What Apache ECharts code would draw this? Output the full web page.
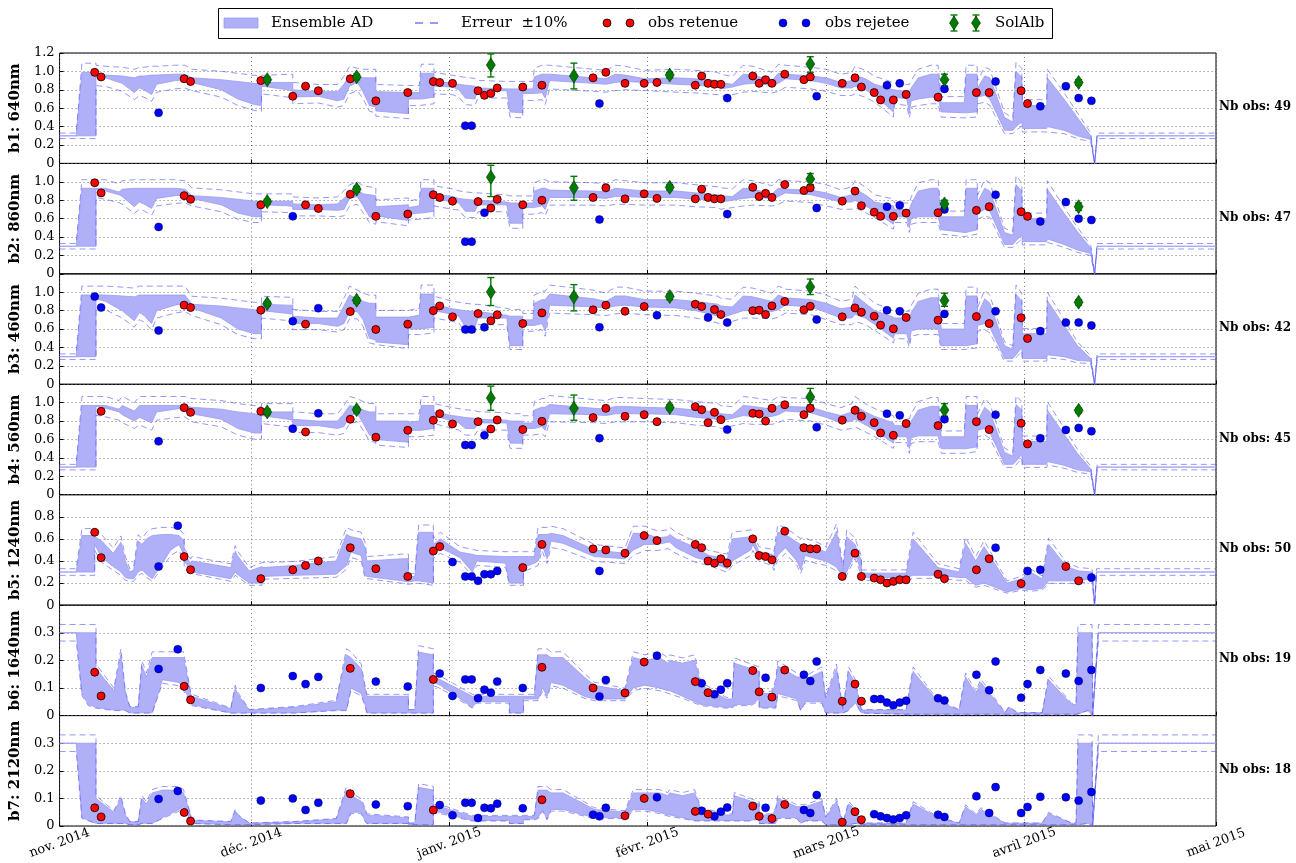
<!DOCTYPE html>
<html>
<head>
<meta charset="utf-8">
<script src="https://cdn.jsdelivr.net/npm/echarts@6/dist/echarts.min.js"></script>
<style>
  html, body { margin: 0; padding: 0; background: #fff; }
  #chart { width: 1296px; height: 863px; }
</style>
</head>
<body>
<div id="chart"></div>
<script>
var DAY = 86400000;
var T0 = Date.UTC(2014, 10, 1);
var T_END = Date.UTC(2015, 4, 1);
var OBS_HOUR = 12;

var bandNames = ['b1: 640nm', 'b2: 860nm', 'b3: 460nm', 'b4: 560nm', 'b5: 1240nm', 'b6: 1640nm', 'b7: 2120nm'];
var yMax = [1.2, 1.2, 1.2, 1.2, 1.0, 0.4, 0.4];
var yStep = [0.2, 0.2, 0.2, 0.2, 0.2, 0.1, 0.1];
var monthTicks = ['2014-11-01', '2014-12-01', '2015-01-01', '2015-02-01', '2015-03-01', '2015-04-01', '2015-05-01'];
var monthNames = ['janv.', 'févr.', 'mars', 'avril', 'mai', 'juin', 'juil.', 'août', 'sept.', 'oct.', 'nov.', 'déc.'];

// observation dates (same for all bands)
var obsDates = ['2014-11-06','2014-11-07','2014-11-16','2014-11-19','2014-11-20','2014-11-21','2014-12-02','2014-12-07',
  '2014-12-09','2014-12-11','2014-12-16','2014-12-20','2014-12-25','2014-12-29','2014-12-30','2015-01-01',
  '2015-01-03','2015-01-04','2015-01-05','2015-01-06','2015-01-07','2015-01-08','2015-01-12','2015-01-15',
  '2015-01-23','2015-01-24','2015-01-25','2015-01-28','2015-01-31','2015-02-02','2015-02-08','2015-02-09',
  '2015-02-10','2015-02-11','2015-02-12','2015-02-13','2015-02-17','2015-02-18','2015-02-19','2015-02-20',
  '2015-02-22','2015-02-25','2015-02-26','2015-02-27','2015-03-03','2015-03-05','2015-03-06','2015-03-08',
  '2015-03-09','2015-03-10','2015-03-11','2015-03-12','2015-03-13','2015-03-18','2015-03-19','2015-03-24',
  '2015-03-26','2015-03-27','2015-03-31','2015-04-01','2015-04-03','2015-04-07','2015-04-09','2015-04-11'];

// r = obs retenue, b = obs rejetee, . = none
var b1Flag = 'rrb.rrrr' + 'rrrrrrrr' + 'bbrrrrrr' + 'rbrrrrrr' + 'rrrbrrrr' + 'rrrbrrrr' + 'rbrbrrbr' + 'rbrrbbbb';
var b1Val = [.99,.94,.55,null,.92,.89,.90,.73, .84,.79,.92,.68,.77,.89,.88,.87,
  .41,.41,.79,.74,.76,.82,.83,.85, .93,.65,.99,.87,.87,.88,.85,.95,
  .87,.86,.86,.71,.95,.87,.91,.87, .97,.91,.94,.73,.87,.93,.83,.77,
  .69,.85,.69,.87,.75,.72,.81,.77, .77,.89,.79,.65,.62,.84,.71,.68];

var b2Flag = 'rrb.rrrb' + 'rrrrrrrr' + 'bbrbrrrr' + 'rbrrrrrr' + 'rrrbrrrr' + 'rrrbrrrr' + 'rbrbrrbr' + 'rbrrbbbb';
var b2Val = [.99,.88,.51,null,.85,.81,.75,.625, .75,.71,.865,.625,.65,.86,.83,.79,
  .35,.35,.785,.665,.715,.81,.75,.80, .83,.59,.935,.815,.87,.82,.815,.92,
  .83,.815,.815,.65,.94,.84,.875,.83, .97,.905,.935,.715,.79,.90,.74,.67,
  .625,.73,.625,.745,.66,.665,.70,.69, .73,.86,.675,.625,.57,.78,.60,.585];

var b3Flag = 'bbb.rrrb' + 'rbrrrrrr' + 'bbrbrrrr' + 'rbrrrbrr' + 'brrbrrrr' + 'rrrbrrrr' + 'rbrbrrbr' + 'rbrrbbbb';
var b3Val = [.953,.834,.585,null,.86,.834,.805,.686, .653,.827,.79,.596,.653,.80,.852,.733,
  .596,.596,.769,.62,.69,.755,.66,.776, .809,.62,.86,.794,.845,.75,.87,.845,
  .726,.812,.758,.671,.80,.805,.758,.852, .90,.809,.848,.704,.733,.83,.783,.74,
  .643,.805,.603,.794,.726,.697,.765,.736, .66,.794,.722,.498,.578,.671,.671,.639];

var b4Flag = '.rb.rrrb' + 'rbrrrrrr' + 'bbrbrrrr' + 'rbrrrrrr' + 'rrrbrrrr' + 'rrrbrrrr' + 'rbrbrrbr' + 'rbrrbbbb';
var b4Val = [null,.906,.58,null,.946,.895,.906,.718, .682,.884,.82,.625,.70,.809,.881,.769,
  .54,.54,.794,.646,.715,.812,.708,.798, .838,.614,.939,.852,.87,.794,.957,.924,
  .783,.895,.816,.708,.884,.877,.80,.939, .978,.87,.939,.733,.81,.917,.852,.783,
  .671,.881,.646,.863,.773,.751,.82,.794, .708,.87,.776,.552,.614,.704,.726,.69];

var b5Flag = 'rrbbrrrr' + 'rrrrrrrb' + 'bbbbbbrr' + 'rbrrrrrr' + 'rrrrrrrr' + 'rrrrrrrr' + 'rrrrrrrr' + 'rbrbbrrb';
var b5Val = [.66,.43,.35,.72,.44,.32,.24,.32, .36,.40,.52,.33,.26,.49,.53,.39,
  .26,.26,.22,.28,.28,.31,.34,.55, .51,.31,.50,.47,.63,.585,.55,.52,
  .40,.38,.42,.38,.60,.45,.44,.41, .67,.52,.51,.51,.26,.47,.26,.245,
  .23,.20,.215,.23,.23,.28,.24,.32, .42,.52,.195,.31,.32,.35,.22,.25];

var b6Flag = 'rrbbrrbb' + 'bbrbbrbb' + 'bbbbbbbr' + 'rbbrrbrb' + 'rbbbrrbr' + 'rbbbrrrb' + 'bbbbbbbb' + 'bbbbbbbb';
var b6Val = [.157,.071,.169,.24,.106,.057,.10,.143, .114,.14,.171,.123,.105,.131,.152,.071,
  .131,.131,.063,.094,.083,.123,.10,.175, .10,.069,.129,.082,.194,.217,.123,.117,
  .083,.077,.094,.117,.163,.086,.137,.067, .165,.148,.125,.196,.052,.114,.052,.06,
  .06,.047,.037,.047,.054,.063,.055,.148, .092,.196,.065,.114,.165,.152,.125,.165];

var b7Flag = 'rrbbrrbb' + 'bbrbbrbb' + 'bbbbbbbr' + 'bbbrrbrb' + 'rbbbrrbr' + 'rbbbrrrb' + 'bbbbbbbb' + 'bbbbbbbb';
var b7Val = [.066,.033,.098,.127,.049,.018,.092,.10, .058,.084,.117,.078,.072,.058,.076,.039,
  .084,.084,.029,.066,.064,.081,.064,.095, .041,.035,.066,.037,.10,.104,.053,.055,
  .043,.035,.052,.067,.072,.035,.066,.027, .078,.058,.047,.112,.014,.052,.023,.043,
  .035,.029,.024,.029,.039,.041,.033,.108, .047,.141,.047,.069,.106,.104,.092,.123];

// SolAlb in situ albedo (b1..b4): value, low, high
var solDates = ['2014-12-03','2014-12-17','2015-01-07','2015-01-20','2015-02-04','2015-02-26','2015-03-19','2015-04-09'];
var b1Sol = [.91,.94,1.07,.95,.96,1.08,.91,.88];
var b1SolLo = [.88,.91,.94,.81,.93,.99,.84,.85];
var b1SolHi = [.94,.97,1.19,1.09,.99,1.16,.97,.91];
var b2Sol = [.785,.92,1.05,.935,.94,1.03,.76,.73];
var b2SolLo = [.76,.89,.84,.80,.91,.97,.72,.69];
var b2SolHi = [.81,.95,1.18,1.06,.97,1.09,.80,.77];
var b3Sol = [.877,.913,1.004,.95,.953,1.058,.91,.892];
var b3SolLo = [.85,.88,.856,.798,.92,.975,.848,.86];
var b3SolHi = [.90,.94,1.16,1.083,.98,1.144,.99,.92];
var b4Sol = [.90,.924,1.05,.939,.949,1.061,.92,.917];
var b4SolLo = [.87,.89,.917,.809,.92,.975,.852,.89];
var b4SolHi = [.93,.95,1.18,1.083,.98,1.155,.99,.94];

// Ensemble AD envelope: [days since 2014-11-01, min, max]
var b1Band = [[0,.30,.30],[2.6,.30,.30],[3.5,.30,.99],[5.7,.30,.99],[5.7,.94,.97],[7.2,.93,.96],[9.8,.87,.95],[11.7,.77,.93],[12.5,.82,.95],[13.2,.80,.95],[14.4,.75,.96],[15.2,.86,.96],[18.1,.90,.97],[19.6,.91,.97],[20.7,.88,.93],[25.3,.80,.91],[27.9,.70,.89],[30.5,.64,.87],[31.6,.63,.87],[31.6,.84,.88],[35.7,.80,.88],[36.5,.79,.88],[36.5,.72,.80],[40.5,.73,.78],[43.5,.68,.78],[44.5,.70,.86],[45.4,.84,.96],[46.6,.88,.94],[47.5,.78,.93],[48.5,.63,.93],[49.5,.61,.93],[49.5,.57,.78],[54.6,.54,.77],[54.6,.70,.77],[56.3,.70,.77],[56.6,.70,.98],[58.6,.72,.98],[58.6,.84,.90],[61.5,.83,.87],[62.5,.80,.86],[63.5,.71,.85],[65.0,.70,.84],[65.5,.79,.82],[70.0,.79,.81],[70.5,.56,.81],[72.5,.55,.81],[72.5,.76,.81],[74.1,.76,.81],[74.3,.76,.94],[75.5,.77,.97],[76.0,.71,.97],[76.7,.90,.97],[83.6,.87,.93],[85.5,.86,.92],[87.0,.88,.97],[88.5,.89,.96],[91.6,.88,.92],[96.5,.86,.93],[99.6,.85,.92],[103.0,.83,.90],[103.5,.81,.88],[105.3,.83,.86],[107.0,.86,.97],[108.5,.87,.96],[111.5,.85,.90],[112.5,.87,.98],[113.6,.92,.97],[117.6,.90,.95],[120.0,.87,.93],[122.3,.82,.88],[124.0,.82,.90],[124.5,.84,.96],[126.1,.80,.92],[127.6,.74,.86],[130.5,.56,.80],[130.7,.72,.80],[132.6,.70,.78],[133.0,.55,.78],[133.3,.68,.82],[134.4,.70,.93],[136.4,.72,.97],[137.5,.72,.97],[138.0,.56,.66],[141.6,.55,.66],[141.9,.55,.97],[143.6,.56,.97],[143.7,.72,.82],[144.8,.74,.95],[145.6,.70,.93],[147.9,.36,.50],[149.2,.36,.45],[149.7,.40,1.0],[150.6,.45,.94],[150.7,.38,.63],[154.5,.38,.63],[154.6,.40,.93],[157.2,.36,.70],[159.3,.30,.50],[161.4,.26,.30],[162.0,0,0],[162.4,.30,.30],[181,.30,.30]];

var b2Band = [[0,.30,.30],[2.6,.30,.30],[3.5,.30,.93],[5.7,.30,.93],[5.7,.92,.93],[7.2,.90,.93],[9.3,.86,.89],[9.8,.84,.92],[11.7,.73,.93],[12.5,.78,.93],[13.2,.76,.93],[14.4,.71,.93],[15.2,.82,.93],[18.1,.85,.93],[19.6,.86,.92],[20.7,.82,.85],[25.3,.75,.83],[27.9,.66,.81],[30.5,.62,.79],[31.6,.62,.79],[31.6,.75,.79],[35.7,.74,.79],[36.5,.73,.79],[36.5,.70,.76],[40.5,.70,.75],[43.5,.69,.76],[44.5,.70,.82],[45.4,.82,.88],[46.6,.84,.91],[47.5,.74,.87],[48.5,.62,.86],[49.5,.60,.85],[49.5,.63,.73],[54.6,.58,.75],[54.6,.65,.72],[56.3,.66,.74],[56.6,.66,.93],[58.6,.68,.93],[58.6,.82,.87],[61.5,.78,.84],[62.5,.77,.82],[63.5,.68,.81],[65.0,.68,.80],[65.5,.75,.80],[70.0,.75,.78],[70.5,.55,.77],[72.5,.55,.77],[72.5,.72,.77],[74.1,.72,.77],[74.3,.72,.90],[75.5,.74,.93],[76.0,.70,.93],[76.7,.83,.91],[83.6,.83,.90],[85.5,.82,.89],[87.0,.84,.93],[88.5,.84,.92],[91.6,.83,.90],[96.5,.83,.90],[99.6,.81,.88],[103.0,.80,.86],[103.5,.78,.85],[105.3,.80,.84],[107.0,.82,.93],[108.5,.83,.92],[111.5,.82,.87],[112.5,.84,.93],[113.6,.88,.92],[117.6,.86,.91],[120.0,.82,.88],[122.3,.78,.83],[124.0,.78,.86],[124.5,.80,.92],[126.1,.74,.86],[127.6,.68,.78],[130.5,.54,.74],[130.7,.62,.70],[132.6,.62,.70],[133.0,.50,.70],[133.3,.60,.76],[134.4,.62,.90],[136.4,.62,.93],[137.5,.62,.93],[138.0,.48,.62],[141.6,.45,.62],[141.9,.45,.93],[143.6,.48,.93],[143.7,.66,.78],[144.8,.70,.93],[145.6,.68,.90],[147.9,.32,.45],[149.2,.32,.42],[149.7,.36,.97],[150.6,.42,.90],[150.7,.35,.60],[154.5,.35,.60],[154.6,.38,.92],[157.2,.32,.66],[159.3,.26,.46],[161.4,.22,.28],[162.0,0,0],[162.4,.30,.30],[181,.30,.30]];

var b3Band = [[0,.30,.30],[2.6,.30,.30],[3.5,.30,.97],[5.7,.30,.97],[5.7,.93,.97],[7.2,.90,.97],[9.8,.80,.96],[11.7,.69,.95],[12.5,.78,.97],[13.2,.75,.97],[14.4,.66,.97],[15.2,.80,.97],[18.1,.86,.97],[19.6,.88,.97],[20.7,.83,.87],[25.3,.72,.85],[27.9,.60,.83],[30.5,.55,.81],[31.6,.55,.80],[31.6,.80,.87],[35.7,.77,.86],[36.5,.76,.86],[36.5,.66,.74],[40.5,.66,.72],[43.5,.63,.72],[44.5,.66,.85],[45.4,.79,.97],[46.6,.79,.93],[47.5,.70,.90],[48.5,.50,.88],[49.5,.48,.88],[49.5,.46,.73],[54.6,.43,.73],[54.6,.60,.73],[56.3,.60,.75],[56.6,.60,.98],[58.6,.62,.98],[58.6,.80,.87],[61.5,.76,.82],[62.5,.74,.81],[63.5,.62,.80],[65.0,.62,.79],[65.5,.72,.79],[70.0,.72,.75],[70.5,.42,.74],[72.5,.42,.74],[72.5,.64,.70],[74.1,.64,.70],[74.3,.64,.88],[75.5,.66,.92],[76.0,.58,.92],[76.7,.86,.98],[83.6,.84,.93],[85.5,.83,.90],[87.0,.85,.96],[88.5,.86,.96],[91.6,.84,.92],[96.5,.83,.92],[99.6,.80,.90],[103.0,.74,.87],[103.5,.72,.85],[105.3,.76,.84],[107.0,.80,.96],[108.5,.80,.95],[111.5,.79,.90],[112.5,.81,.97],[113.6,.86,.94],[117.6,.84,.92],[120.0,.78,.88],[122.3,.72,.82],[124.0,.72,.84],[124.5,.76,.97],[126.1,.72,.88],[127.6,.65,.80],[130.5,.50,.73],[130.7,.55,.72],[132.6,.55,.72],[133.0,.45,.72],[133.3,.58,.78],[134.4,.60,.90],[136.4,.60,.94],[137.5,.60,.94],[138.0,.42,.60],[141.6,.42,.60],[141.9,.42,.96],[143.6,.44,.96],[143.7,.64,.76],[144.8,.66,.93],[145.6,.62,.88],[147.9,.28,.42],[149.2,.28,.38],[149.7,.32,.98],[150.6,.40,.90],[150.7,.28,.55],[154.5,.28,.55],[154.6,.32,.91],[157.2,.30,.64],[159.3,.26,.42],[161.4,.25,.28],[162.0,0,0],[162.4,.30,.30],[181,.30,.30]];

var b4Band = [[0,.30,.30],[2.6,.30,.30],[3.5,.30,.97],[5.7,.30,.97],[5.7,.96,.97],[7.2,.94,.97],[9.3,.90,.93],[9.8,.87,.97],[11.7,.80,.91],[12.5,.84,.97],[13.2,.82,.97],[14.4,.78,.97],[15.2,.90,.97],[18.1,.93,.97],[19.6,.94,.97],[20.7,.88,.95],[25.3,.82,.93],[27.9,.72,.90],[30.5,.67,.88],[31.6,.67,.87],[31.6,.86,.90],[35.7,.82,.90],[36.5,.81,.90],[36.5,.75,.82],[40.5,.75,.80],[43.5,.72,.80],[44.5,.74,.88],[45.4,.86,.97],[46.6,.88,.95],[47.5,.78,.92],[48.5,.65,.90],[49.5,.63,.90],[49.5,.60,.80],[54.6,.57,.80],[54.6,.70,.79],[56.3,.70,.80],[56.6,.70,.97],[58.6,.72,.97],[58.6,.86,.90],[61.5,.80,.86],[62.5,.78,.85],[63.5,.72,.84],[65.0,.72,.83],[65.5,.78,.82],[70.0,.78,.81],[70.5,.56,.80],[72.5,.56,.80],[72.5,.72,.78],[74.1,.72,.78],[74.3,.72,.92],[75.5,.74,.95],[76.0,.70,.95],[76.7,.88,.98],[83.6,.87,.94],[85.5,.86,.93],[87.0,.88,.96],[88.5,.88,.96],[91.6,.88,.95],[96.5,.87,.94],[99.6,.84,.92],[103.0,.82,.90],[103.5,.80,.88],[105.3,.83,.87],[107.0,.86,.97],[108.5,.85,.96],[111.5,.85,.93],[112.5,.87,.97],[113.6,.91,.96],[117.6,.89,.95],[120.0,.84,.90],[122.3,.78,.86],[124.0,.80,.90],[124.5,.82,.97],[126.1,.76,.90],[127.6,.70,.85],[130.5,.56,.78],[130.7,.63,.75],[132.6,.63,.75],[133.0,.50,.75],[133.3,.62,.80],[134.4,.64,.92],[136.4,.64,.96],[137.5,.64,.96],[138.0,.50,.63],[141.6,.50,.63],[141.9,.50,.97],[143.6,.52,.97],[143.7,.70,.80],[144.8,.72,.95],[145.6,.68,.90],[147.9,.33,.46],[149.2,.33,.42],[149.7,.36,.98],[150.6,.44,.92],[150.7,.33,.58],[154.5,.33,.58],[154.6,.36,.92],[157.2,.32,.66],[159.3,.27,.45],[161.4,.25,.28],[162.0,0,0],[162.4,.30,.30],[181,.30,.30]];

var b5Band = [[0,.30,.30],[2.6,.30,.30],[3.5,.30,.63],[5.5,.30,.63],[5.5,.55,.62],[6.6,.43,.58],[8.4,.35,.47],[9.6,.30,.57],[10.3,.25,.40],[11.0,.24,.30],[11.6,.24,.32],[12.3,.30,.58],[12.9,.32,.55],[13.6,.28,.60],[14.5,.24,.63],[16.1,.38,.64],[17.4,.50,.64],[18.7,.55,.63],[19.5,.45,.58],[19.5,.40,.47],[20.5,.32,.38],[20.7,.30,.40],[26.8,.24,.34],[27.5,.30,.49],[27.8,.28,.45],[29.7,.20,.31],[31.7,.20,.35],[31.7,.26,.34],[36.8,.27,.36],[43.3,.28,.40],[44.9,.36,.64],[45.6,.48,.62],[47.2,.45,.60],[47.8,.27,.52],[48.1,.26,.40],[53.6,.22,.42],[54.6,.21,.42],[54.6,.21,.26],[55.6,.22,.26],[56.2,.22,.66],[58.5,.20,.66],[58.5,.47,.55],[59.6,.52,.60],[62.7,.43,.48],[64.6,.30,.46],[65.3,.40,.45],[69.8,.38,.44],[70.4,.20,.44],[72.6,.20,.44],[72.6,.34,.44],[74.3,.38,.44],[74.9,.40,.64],[75.5,.55,.64],[76.3,.42,.64],[76.9,.58,.65],[78.8,.56,.63],[83.7,.44,.50],[88.5,.42,.47],[89.8,.50,.65],[91.6,.55,.65],[93.6,.55,.61],[95.2,.57,.62],[95.5,.57,.64],[96.5,.52,.60],[99.6,.43,.52],[101.6,.40,.45],[104.5,.33,.42],[105.3,.40,.60],[108.2,.50,.62],[108.5,.55,.62],[109.5,.44,.48],[111.5,.40,.46],[111.8,.35,.44],[112.4,.45,.66],[113.6,.52,.64],[115.4,.40,.57],[116.0,.32,.55],[116.7,.45,.55],[118.5,.42,.52],[119.9,.40,.48],[121.2,.36,.62],[121.6,.34,.67],[122.6,.26,.32],[123.2,.30,.62],[124.5,.47,.55],[125.5,.30,.40],[125.5,.25,.29],[132.5,.25,.29],[133.6,.27,.60],[137.5,.27,.34],[140.8,.25,.30],[141.8,.25,.56],[143.4,.18,.40],[144.7,.20,.53],[148.3,.12,.20],[150.6,.15,.24],[151.9,.14,.30],[153.8,.15,.24],[154.8,.22,.55],[157.6,.22,.35],[159.5,.22,.31],[161.6,.24,.30],[162.0,0,0],[162.3,.30,.30],[181,.30,.30]];

var b6Band = [[0,.30,.30],[2.6,.30,.30],[3.5,.08,.30],[4.5,.04,.30],[5.7,.03,.30],[5.7,.03,.17],[8.5,.02,.09],[9.6,.02,.22],[10.3,.02,.08],[11.0,.01,.03],[12.3,.01,.03],[12.9,.01,.18],[13.6,.01,.14],[14.5,.01,.21],[16.1,.13,.21],[18.7,.12,.21],[19.4,.10,.21],[20.5,.05,.08],[20.7,.04,.07],[26.8,.01,.025],[27.5,.01,.10],[27.8,.01,.08],[29.7,.01,.02],[36.8,.01,.03],[43.3,.02,.05],[44.9,.02,.22],[45.6,.10,.21],[47.2,.08,.17],[47.8,.04,.10],[48.1,.01,.07],[54.6,.01,.07],[54.6,.01,.02],[55.6,.01,.02],[56.2,.01,.23],[58.5,.01,.22],[58.5,.12,.14],[59.6,.11,.13],[64.6,.03,.07],[65.3,.05,.07],[70.4,.05,.07],[70.4,.01,.07],[72.6,.01,.07],[72.6,.06,.07],[74.3,.06,.07],[74.9,.06,.22],[75.6,.10,.22],[76.3,.07,.22],[76.9,.12,.21],[78.8,.11,.21],[82.1,.07,.14],[83.7,.06,.11],[88.5,.06,.09],[89.8,.10,.21],[91.6,.11,.20],[93.9,.10,.21],[95.2,.09,.19],[95.5,.09,.20],[97.5,.07,.19],[99.4,.05,.20],[100.4,.04,.11],[104.3,.03,.06],[105.3,.03,.06],[105.6,.04,.19],[108.2,.04,.17],[109.5,.06,.16],[109.5,.03,.08],[111.5,.03,.08],[112.1,.03,.12],[112.4,.08,.18],[115.4,.06,.14],[116.0,.02,.14],[116.7,.05,.13],[119.3,.05,.16],[119.9,.01,.06],[121.6,.01,.17],[122.6,.01,.02],[123.5,.02,.16],[124.5,.05,.12],[125.5,.01,.02],[132.5,.005,.02],[133.6,.005,.16],[137.5,.005,.05],[140.8,.005,.02],[141.8,.005,.14],[143.4,.005,.08],[144.2,.005,.12],[148.0,.005,.01],[148.6,.005,.03],[149.9,.005,.01],[153.8,.005,.01],[154.8,.005,.13],[158.4,.005,.04],[159.1,.005,.04],[159.4,.005,.30],[161.0,.02,.30],[161.6,0,.30],[161.7,0,0],[162.6,.30,.30],[181,.30,.30]];

var b7Band = [[0,.30,.30],[2.6,.30,.30],[3.5,.03,.30],[5.7,.01,.30],[5.7,.01,.10],[8.5,.01,.05],[9.6,.01,.10],[10.3,.01,.04],[11.0,.005,.015],[12.3,.005,.015],[12.9,.01,.10],[13.6,.01,.08],[14.5,.01,.12],[16.1,.03,.13],[18.7,.06,.13],[19.4,.07,.12],[20.5,.02,.04],[20.7,.01,.02],[26.8,.005,.015],[27.5,.005,.055],[27.8,.005,.04],[29.7,.005,.01],[36.8,.01,.015],[43.3,.01,.025],[44.9,.01,.13],[45.6,.05,.11],[47.2,.05,.09],[47.8,.02,.06],[48.1,.01,.04],[54.6,.01,.03],[54.6,.005,.01],[55.6,.005,.01],[56.2,.005,.14],[58.5,.005,.13],[58.5,.05,.07],[59.6,.05,.07],[64.6,.02,.035],[70.4,.02,.035],[70.4,.01,.035],[72.6,.01,.035],[72.6,.025,.035],[74.3,.025,.035],[74.9,.03,.13],[75.6,.06,.13],[76.3,.025,.13],[76.9,.06,.12],[78.8,.06,.12],[82.1,.04,.08],[83.7,.03,.06],[88.5,.03,.05],[89.8,.06,.12],[91.6,.06,.12],[93.9,.05,.12],[95.2,.04,.11],[95.5,.04,.12],[97.5,.03,.11],[99.4,.02,.12],[100.4,.02,.06],[104.3,.02,.04],[105.3,.02,.04],[105.6,.02,.11],[108.2,.02,.09],[109.5,.03,.08],[109.5,.01,.04],[111.5,.01,.04],[112.1,.01,.06],[112.4,.03,.10],[115.4,.03,.07],[116.0,.01,.07],[116.7,.02,.07],[119.3,.02,.09],[119.9,.005,.03],[121.6,.005,.09],[122.6,.005,.01],[123.5,.005,.08],[124.5,.01,.06],[125.5,.005,.01],[132.5,.005,.01],[133.6,.005,.08],[137.5,.005,.03],[140.8,.005,.01],[141.8,.005,.07],[143.4,.005,.04],[144.2,.005,.06],[148.0,.005,.01],[153.8,.005,.01],[154.8,.005,.045],[158.4,.005,.01],[159.1,.005,.01],[159.4,.005,.30],[161.0,.01,.30],[161.6,0,.30],[161.7,0,0],[162.6,.30,.30],[181,.30,.30]];

var bands = [b1Band, b2Band, b3Band, b4Band, b5Band, b6Band, b7Band];
var obsVals = [b1Val, b2Val, b3Val, b4Val, b5Val, b6Val, b7Val];
var obsFlags = [b1Flag, b2Flag, b3Flag, b4Flag, b5Flag, b6Flag, b7Flag];
var solVals = [b1Sol, b2Sol, b3Sol, b4Sol];
var solLo = [b1SolLo, b2SolLo, b3SolLo, b4SolLo];
var solHi = [b1SolHi, b2SolHi, b3SolHi, b4SolHi];

var FONT = 'DejaVu Serif';
var BAND_FILL = '#b0b0f8';
var BAND_EDGE = '#9a9af2';
var DASH = 'rgba(80,80,250,0.6)';
var GREEN = '#007a00';

var GRID_TOP = 53, GRID_H = 110.43, GRID_LEFT = 54, GRID_RIGHT = 80;

function dayTime(d) { return T0 + d * DAY; }
function obsTime(s) { return Date.parse(s) + OBS_HOUR * 3600000; }
var monthValues = monthTicks.map(function (s) { return Date.parse(s); });

var chart = echarts.init(document.getElementById('chart'));

var grids = [], xAxes = [], yAxes = [], series = [], graphics = [];

bands.forEach(function (band, i) {
  grids.push({
    left: GRID_LEFT, right: GRID_RIGHT, top: GRID_TOP + i * GRID_H, height: GRID_H,
    show: true, borderColor: '#000', borderWidth: 1, backgroundColor: 'transparent'
  });
  xAxes.push({
    type: 'value', gridIndex: i, min: T0, max: T_END,
    axisLine: { show: false },
    axisTick: { show: true, inside: true, length: 4, customValues: monthValues, lineStyle: { color: '#000' } },
    axisLabel: {
      show: i === bands.length - 1, customValues: monthValues,
      formatter: function (v) {
        var d = new Date(v);
        return monthNames[d.getUTCMonth()] + ' ' + d.getUTCFullYear();
      },
      rotate: 20, align: 'center', verticalAlign: 'middle', margin: 17,
      fontFamily: FONT, fontSize: 13, color: '#000'
    },
    splitLine: { show: true, lineStyle: { color: '#555', type: [1, 3], width: 0.8 } }
  });
  yAxes.push({
    type: 'value', gridIndex: i, min: 0, max: yMax[i], interval: yStep[i],
    name: bandNames[i], nameLocation: 'middle', nameGap: 30,
    nameTextStyle: { fontFamily: FONT, fontWeight: 'bold', fontSize: 15, color: '#000' },
    axisLine: { show: false },
    axisTick: { show: true, inside: true, length: 4, lineStyle: { color: '#000' } },
    axisLabel: {
      showMaxLabel: i === 0, margin: 5, fontFamily: FONT, fontSize: 13, color: '#000',
      formatter: function (v) { return v === 0 ? '0' : v.toFixed(1); }
    },
    splitLine: { show: true, lineStyle: { color: '#555', type: [1, 3], width: 0.8 } }
  });

  // ensemble envelope
  series.push({
    type: 'custom', xAxisIndex: i, yAxisIndex: i, silent: true, z: 1,
    data: [[T0, 0]],
    renderItem: function (params, api) {
      var top = band.map(function (p) { return api.coord([dayTime(p[0]), p[2]]); });
      var bot = band.map(function (p) { return api.coord([dayTime(p[0]), p[1]]); }).reverse();
      return {
        type: 'polygon', shape: { points: top.concat(bot) },
        style: { fill: BAND_FILL, stroke: BAND_EDGE, lineWidth: 0.8 }
      };
    }
  });

  // +/-10% error lines
  [[2, 1.1], [1, 0.9]].forEach(function (e) {
    series.push({
      type: 'line', xAxisIndex: i, yAxisIndex: i, silent: true, z: 2,
      symbol: 'none', animation: false,
      lineStyle: { color: DASH, width: 1, type: [6, 4] },
      data: band.map(function (p) { return [dayTime(p[0]), p[e[0]] * e[1]]; })
    });
  });

  // SolAlb error bars
  if (i < solVals.length) {
    series.push({
      type: 'custom', xAxisIndex: i, yAxisIndex: i, silent: true, z: 3,
      data: solDates.map(function (d, k) { return [obsTime(d), solLo[i][k], solHi[i][k]]; }),
      renderItem: function (params, api) {
        var t = api.value(0);
        var lo = api.coord([t, api.value(1)]), hi = api.coord([t, api.value(2)]);
        var w = 3.5, st = { stroke: GREEN, lineWidth: 1.4 };
        return {
          type: 'group', children: [
            { type: 'line', shape: { x1: lo[0], y1: lo[1], x2: hi[0], y2: hi[1] }, style: st },
            { type: 'line', shape: { x1: lo[0] - w, y1: lo[1], x2: lo[0] + w, y2: lo[1] }, style: st },
            { type: 'line', shape: { x1: hi[0] - w, y1: hi[1], x2: hi[0] + w, y2: hi[1] }, style: st }
          ]
        };
      }
    });
  }

  var kept = [], rejected = [];
  obsDates.forEach(function (d, k) {
    var v = obsVals[i][k], f = obsFlags[i].charAt(k);
    if (v === null) return;
    if (f === 'r') kept.push([obsTime(d), v]);
    else if (f === 'b') rejected.push([obsTime(d), v]);
  });
  series.push({
    type: 'scatter', xAxisIndex: i, yAxisIndex: i, silent: true, z: 4,
    symbol: 'circle', symbolSize: 8,
    itemStyle: { color: '#0000ff', borderColor: '#00003a', borderWidth: 0.5, opacity: 1 },
    data: rejected
  });
  series.push({
    type: 'scatter', xAxisIndex: i, yAxisIndex: i, silent: true, z: 5,
    symbol: 'circle', symbolSize: 8,
    itemStyle: { color: '#ff0000', borderColor: '#000', borderWidth: 0.8, opacity: 1 },
    data: kept
  });
  if (i < solVals.length) {
    series.push({
      type: 'scatter', xAxisIndex: i, yAxisIndex: i, silent: true, z: 6,
      symbol: 'diamond', symbolSize: [9, 14],
      itemStyle: { color: GREEN, borderColor: '#003300', borderWidth: 0.6, opacity: 1 },
      data: solDates.map(function (d, k) { return [obsTime(d), solVals[i][k]]; })
    });
  }

  var nb = obsFlags[i].split('').filter(function (c) { return c === 'r'; }).length;
  graphics.push({
    type: 'text', left: 1219, top: GRID_TOP + i * GRID_H + GRID_H / 2 - 7,
    style: { text: 'Nb obs: ' + nb, font: 'bold 12px "DejaVu Serif"', fill: '#000' }
  });
});

// legend
var LY = 23;
graphics.push(
  { type: 'rect', shape: { x: 218.5, y: 8.5, width: 834, height: 30 }, style: { fill: '#fff', stroke: '#000', lineWidth: 1 }, z: 100 },
  { type: 'rect', shape: { x: 224, y: 18, width: 34, height: 10 }, style: { fill: BAND_FILL, stroke: BAND_EDGE, lineWidth: 0.8 }, z: 101 },
  { type: 'text', x: 271, y: LY, style: { text: 'Ensemble AD', font: '15px "DejaVu Serif"', fill: '#000', verticalAlign: 'middle' }, z: 101 },
  { type: 'line', shape: { x1: 415, y1: LY, x2: 440, y2: LY }, style: { stroke: '#3333ff', lineWidth: 1, lineDash: [8, 7] }, z: 101 },
  { type: 'text', x: 461, y: LY, style: { text: 'Erreur  ±10%', font: '15px "DejaVu Serif"', fill: '#000', verticalAlign: 'middle' }, z: 101 },
  { type: 'circle', shape: { cx: 607, cy: LY, r: 4 }, style: { fill: '#ff0000', stroke: '#000', lineWidth: 0.8 }, z: 101 },
  { type: 'circle', shape: { cx: 630, cy: LY, r: 4 }, style: { fill: '#ff0000', stroke: '#000', lineWidth: 0.8 }, z: 101 },
  { type: 'text', x: 648, y: LY, style: { text: 'obs retenue', font: '15px "DejaVu Serif"', fill: '#000', verticalAlign: 'middle' }, z: 101 },
  { type: 'circle', shape: { cx: 783, cy: LY, r: 4 }, style: { fill: '#0000ff', stroke: '#00003a', lineWidth: 0.5 }, z: 101 },
  { type: 'circle', shape: { cx: 806, cy: LY, r: 4 }, style: { fill: '#0000ff', stroke: '#00003a', lineWidth: 0.5 }, z: 101 },
  { type: 'text', x: 825, y: LY, style: { text: 'obs rejetee', font: '15px "DejaVu Serif"', fill: '#000', verticalAlign: 'middle' }, z: 101 }
);
[954, 976].forEach(function (cx) {
  graphics.push(
    { type: 'line', shape: { x1: cx, y1: 15, x2: cx, y2: 31 }, style: { stroke: GREEN, lineWidth: 1.4 }, z: 101 },
    { type: 'line', shape: { x1: cx - 3.5, y1: 15, x2: cx + 3.5, y2: 15 }, style: { stroke: GREEN, lineWidth: 1.4 }, z: 101 },
    { type: 'line', shape: { x1: cx - 3.5, y1: 31, x2: cx + 3.5, y2: 31 }, style: { stroke: GREEN, lineWidth: 1.4 }, z: 101 },
    { type: 'polygon', shape: { points: [[cx, LY - 7], [cx + 4.5, LY], [cx, LY + 7], [cx - 4.5, LY]] }, style: { fill: GREEN, stroke: '#003300', lineWidth: 0.6 }, z: 102 }
  );
});
graphics.push({ type: 'text', x: 995, y: LY, style: { text: 'SolAlb', font: '15px "DejaVu Serif"', fill: '#000', verticalAlign: 'middle' }, z: 101 });

chart.setOption({
  animation: false,
  backgroundColor: '#fff',
  grid: grids,
  xAxis: xAxes,
  yAxis: yAxes,
  series: series,
  graphic: graphics
});
</script>
</body>
</html>
